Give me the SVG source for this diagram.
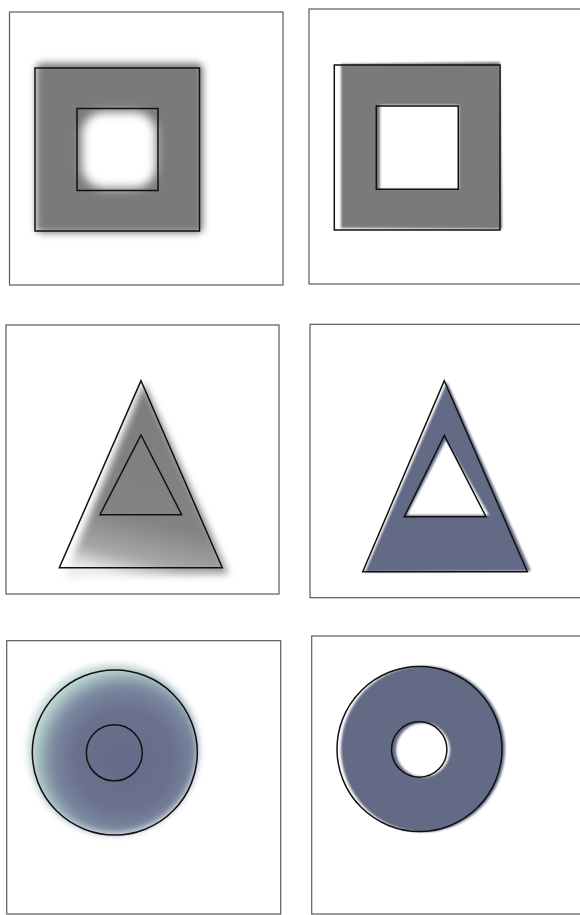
<svg xmlns="http://www.w3.org/2000/svg" width="580" height="915" viewBox="0 0 580 915">
<style>
.frame{fill:#fff;stroke:#5a5a5a;stroke-width:1.2}
.line{fill:none;stroke:#111;stroke-width:1.5;stroke-linejoin:miter}
.gray{fill:#7a7a7a}
.slate{fill:#646b85}
</style>
<defs>
<filter id="b6" x="-30%" y="-30%" width="160%" height="160%"><feGaussianBlur stdDeviation="5"/></filter>
<filter id="b4" x="-30%" y="-30%" width="160%" height="160%"><feGaussianBlur stdDeviation="3.5"/></filter>
<filter id="b1" x="-10%" y="-10%" width="120%" height="120%"><feGaussianBlur stdDeviation="1.3"/></filter>
<linearGradient id="triG" x1="0.6" y1="0" x2="0.4" y2="1">
<stop offset="0" stop-color="#7c7c7c"/>
<stop offset="0.7" stop-color="#838383"/>
<stop offset="0.9" stop-color="#a8a8a8"/>
<stop offset="1" stop-color="#eeeeee"/>
</linearGradient>
<radialGradient id="circG" cx="124" cy="759" r="92" gradientUnits="userSpaceOnUse">
<stop offset="0" stop-color="#646a88"/>
<stop offset="0.55" stop-color="#6a718e"/>
<stop offset="0.78" stop-color="#7a879f"/>
<stop offset="0.92" stop-color="#a0b8bc"/>
<stop offset="1" stop-color="#c5dbd8"/>
</radialGradient>
</defs>

<g id="panel1">
<rect class="frame" x="9.5" y="12" width="273.5" height="273"/>
<rect class="gray" filter="url(#b4)" x="36" y="63" width="167" height="170" rx="6"/>
<rect fill="#fff" filter="url(#b6)" x="82" y="112" width="74" height="76" rx="22"/>
<rect class="line" x="35" y="68" width="164.5" height="163"/>
<rect class="line" x="77" y="108.5" width="81" height="82"/>
</g>

<g id="panel2">
<rect class="frame" x="309" y="9" width="275" height="275"/>
<path class="gray" filter="url(#b1)" fill-rule="evenodd" d="M341,64 L500,62 L502,229 L341,228 Z M380,105 L459,105 L459,189 L380,189 Z"/>
<rect class="line" x="334.3" y="65" width="165.7" height="165"/>
<rect class="line" x="376.3" y="106" width="82" height="83.3"/>
</g>

<g id="panel3">
<rect class="frame" x="6" y="325" width="273" height="269"/>
<polygon filter="url(#b4)" fill="url(#triG)" points="144,383 229,574 64,578"/>
<polygon class="line" points="141,380.7 222.3,567.7 59.3,567.7"/>
<polygon class="line" points="141,435 181.7,514.7 100,514.7"/>
</g>

<g id="panel4">
<rect class="frame" x="310" y="324.3" width="275" height="273.4"/>
<path class="slate" filter="url(#b1)" fill-rule="evenodd" d="M447,382 L531,571 L365,572 Z M446,440 L489,515 L407,515 Z"/>
<polygon class="line" points="444.3,380.7 527.3,571.7 362.7,571.7"/>
<polygon class="line" points="444.3,435.3 486,516.7 404.3,516.7"/>
</g>

<g id="panel5">
<rect class="frame" x="6.7" y="640.7" width="274" height="273.3"/>
<circle filter="url(#b4)" fill="url(#circG)" cx="113" cy="749" r="85"/>
<circle class="line" cx="114.8" cy="752.5" r="82.5"/>
<circle class="line" cx="114.3" cy="752.8" r="28"/>
</g>

<g id="panel6">
<rect class="frame" x="311.7" y="636" width="275" height="278"/>
<path class="slate" filter="url(#b1)" fill-rule="evenodd" d="M341,749 A82,83 0 1 0 505,749 A82,83 0 1 0 341,749 Z M396,750 A27,27 0 1 0 450,750 A27,27 0 1 0 396,750 Z"/>
<circle class="line" cx="419.5" cy="749" r="82.5"/>
<circle class="line" cx="419.2" cy="749.5" r="27.7"/>
</g>
</svg>
